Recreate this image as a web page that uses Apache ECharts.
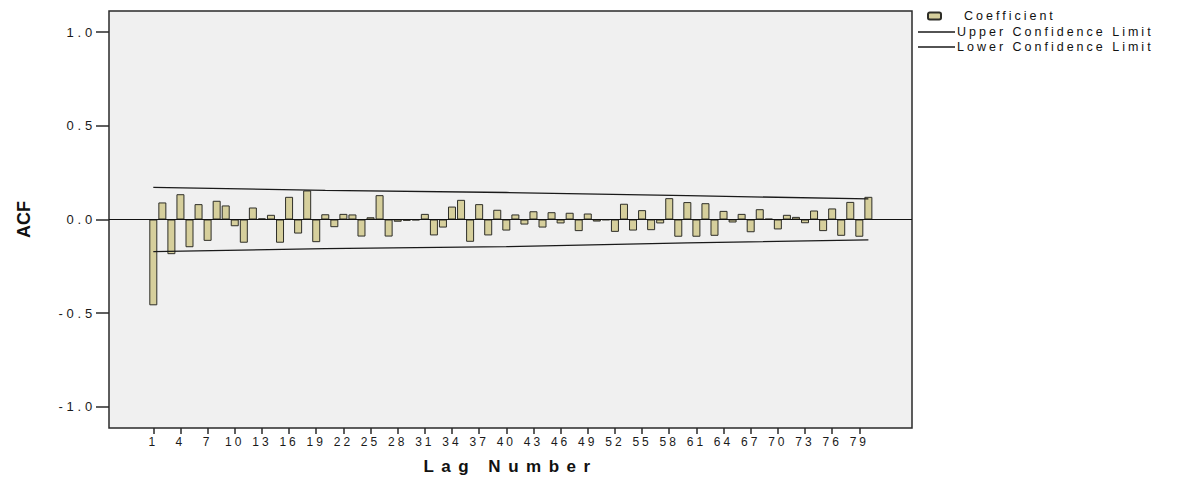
<!DOCTYPE html>
<html>
<head>
<meta charset="utf-8">
<script src="https://cdn.jsdelivr.net/npm/echarts@6/dist/echarts.min.js"></script>
<style>
  html, body { margin: 0; padding: 0; background: #ffffff; }
  #chart { width: 1193px; height: 477px; }
  /* wide, spaced-out lettering for the axis and legend texts */
  #chart text[style*="13px"] { letter-spacing: 3.8px; }
  #chart text[style*="12px"] { letter-spacing: 3px; }
  #chart text[style*="12.5px"] { letter-spacing: 3px; }
  #chart text[style*="17px"] { letter-spacing: 7.5px; }
</style>
</head>
<body>
<div id="chart"></div>
<script>
// Lag numbers
const lags = [
  1, 2, 3, 4, 5, 6, 7, 8, 9, 10,
  11, 12, 13, 14, 15, 16, 17, 18, 19, 20,
  21, 22, 23, 24, 25, 26, 27, 28, 29, 30,
  31, 32, 33, 34, 35, 36, 37, 38, 39, 40,
  41, 42, 43, 44, 45, 46, 47, 48, 49, 50,
  51, 52, 53, 54, 55, 56, 57, 58, 59, 60,
  61, 62, 63, 64, 65, 66, 67, 68, 69, 70,
  71, 72, 73, 74, 75, 76, 77, 78, 79, 80
];

// ACF coefficient per lag
const coefficient = [
  -0.458, 0.091, -0.185, 0.135, -0.148, 0.082, -0.114, 0.100, 0.075, -0.036,
  -0.124, 0.064, 0.006, 0.025, -0.124, 0.121, -0.075, 0.155, -0.121, 0.028,
  -0.041, 0.030, 0.027, -0.091, 0.012, 0.130, -0.091, -0.012, -0.007, -0.004,
  0.030, -0.085, -0.043, 0.069, 0.105, -0.119, 0.082, -0.085, 0.052, -0.059,
  0.027, -0.027, 0.044, -0.043, 0.039, -0.021, 0.036, -0.062, 0.032, -0.011,
  -0.003, -0.066, 0.084, -0.059, 0.050, -0.057, -0.021, 0.114, -0.092, 0.093,
  -0.092, 0.087, -0.087, 0.046, -0.016, 0.030, -0.068, 0.055, 0.004, -0.053,
  0.025, 0.014, -0.020, 0.048, -0.062, 0.059, -0.087, 0.094, -0.092, 0.121
];

// Confidence limits at selected lags
const limitLags = [1, 20, 40, 60, 80];
const upperLimit = [0.172, 0.156, 0.144, 0.127, 0.110];
const lowerLimit = [-0.172, -0.156, -0.145, -0.125, -0.109];

// Axis tick positions
const lagTicks = [1, 4, 7, 10, 13, 16, 19, 22, 25, 28, 31, 34, 37, 40, 43, 46, 49, 52, 55, 58, 61, 64, 67, 70, 73, 76, 79];
const acfTicks = [-1.0, -0.5, 0.0, 0.5, 1.0];

const barData = lags.map((lag, i) => [lag, coefficient[i]]);
const upperData = limitLags.map((lag, i) => [lag, upperLimit[i]]);
const lowerData = limitLags.map((lag, i) => [lag, lowerLimit[i]]);

const FONT = '"Liberation Sans", Arial, sans-serif';
const LINE_ICON = 'path://M0,0H35V1.2H0Z';
const chart = echarts.init(document.getElementById('chart'), null, { renderer: 'svg' });

chart.setOption({
  animation: false,
  backgroundColor: '#ffffff',
  grid: {
    left: 109, top: 11, width: 803, height: 417,
    outerBoundsMode: 'none',
    containLabel: false,
    show: true,
    backgroundColor: '#f0f0f0',
    borderColor: '#2a2a2a',
    borderWidth: 1.5
  },
  legend: [
    {
      orient: 'vertical',
      left: 927, top: 9,
      padding: 0,
      itemWidth: 13, itemHeight: 7,
      data: ['Coefficient'],
      textStyle: { fontFamily: FONT, fontSize: 12.5, color: '#111', lineHeight: 14, padding: [0, 0, 0, 18] }
    },
    {
      orient: 'vertical',
      left: 918, top: 25,
      padding: 0,
      itemWidth: 37, itemHeight: 14, itemGap: 1,
      data: [
        { name: 'Upper Confidence Limit', icon: LINE_ICON },
        { name: 'Lower Confidence Limit', icon: LINE_ICON }
      ],
      textStyle: { fontFamily: FONT, fontSize: 12.5, color: '#111', lineHeight: 14, padding: [0, 0, 0, -3] }
    }
  ],
  xAxis: {
    type: 'value',
    min: -3.894,
    max: 84.82,
    name: 'Lag Number',
    nameLocation: 'middle',
    nameGap: 30,
    nameTextStyle: { fontFamily: FONT, fontSize: 17, fontWeight: 'bold', color: '#111' },
    axisLine: { show: false, onZero: false },
    splitLine: { show: false },
    axisTick: {
      show: true, length: 6, customValues: lagTicks,
      lineStyle: { color: '#2a2a2a', width: 1.5 }
    },
    axisLabel: {
      customValues: lagTicks,
      margin: 8,
      fontFamily: FONT, fontSize: 12, color: '#1a1a1a'
    }
  },
  yAxis: {
    type: 'value',
    min: -1.113,
    max: 1.113,
    name: 'ACF',
    nameLocation: 'middle',
    nameRotate: 90,
    nameGap: 76,
    nameTextStyle: { fontFamily: FONT, fontSize: 18, fontWeight: 'bold', color: '#111' },
    axisLine: { show: false, onZero: false },
    splitLine: { show: false },
    axisTick: {
      show: true, length: 13, customValues: acfTicks,
      lineStyle: { color: '#2a2a2a', width: 1.5 }
    },
    axisLabel: {
      customValues: acfTicks,
      margin: 13,
      fontFamily: FONT, fontSize: 13, color: '#1a1a1a',
      formatter: v => v.toFixed(1)
    }
  },
  series: [
    {
      name: 'Coefficient',
      type: 'bar',
      data: barData,
      barWidth: 8,
      itemStyle: { color: '#d6cf9c', borderColor: '#2e2e28', borderWidth: 1 },
      markLine: {
        silent: true,
        symbol: 'none',
        label: { show: false },
        lineStyle: { color: '#111', width: 1.2, type: 'solid' },
        data: [{ yAxis: 0 }]
      },
      z: 2
    },
    {
      name: 'Upper Confidence Limit',
      type: 'line',
      data: upperData,
      symbol: 'none',
      itemStyle: { color: '#1a1a1a' },
      lineStyle: { color: '#1a1a1a', width: 1.3 },
      z: 3
    },
    {
      name: 'Lower Confidence Limit',
      type: 'line',
      data: lowerData,
      symbol: 'none',
      itemStyle: { color: '#1a1a1a' },
      lineStyle: { color: '#1a1a1a', width: 1.3 },
      z: 3
    }
  ]
});
</script>
</body>
</html>
